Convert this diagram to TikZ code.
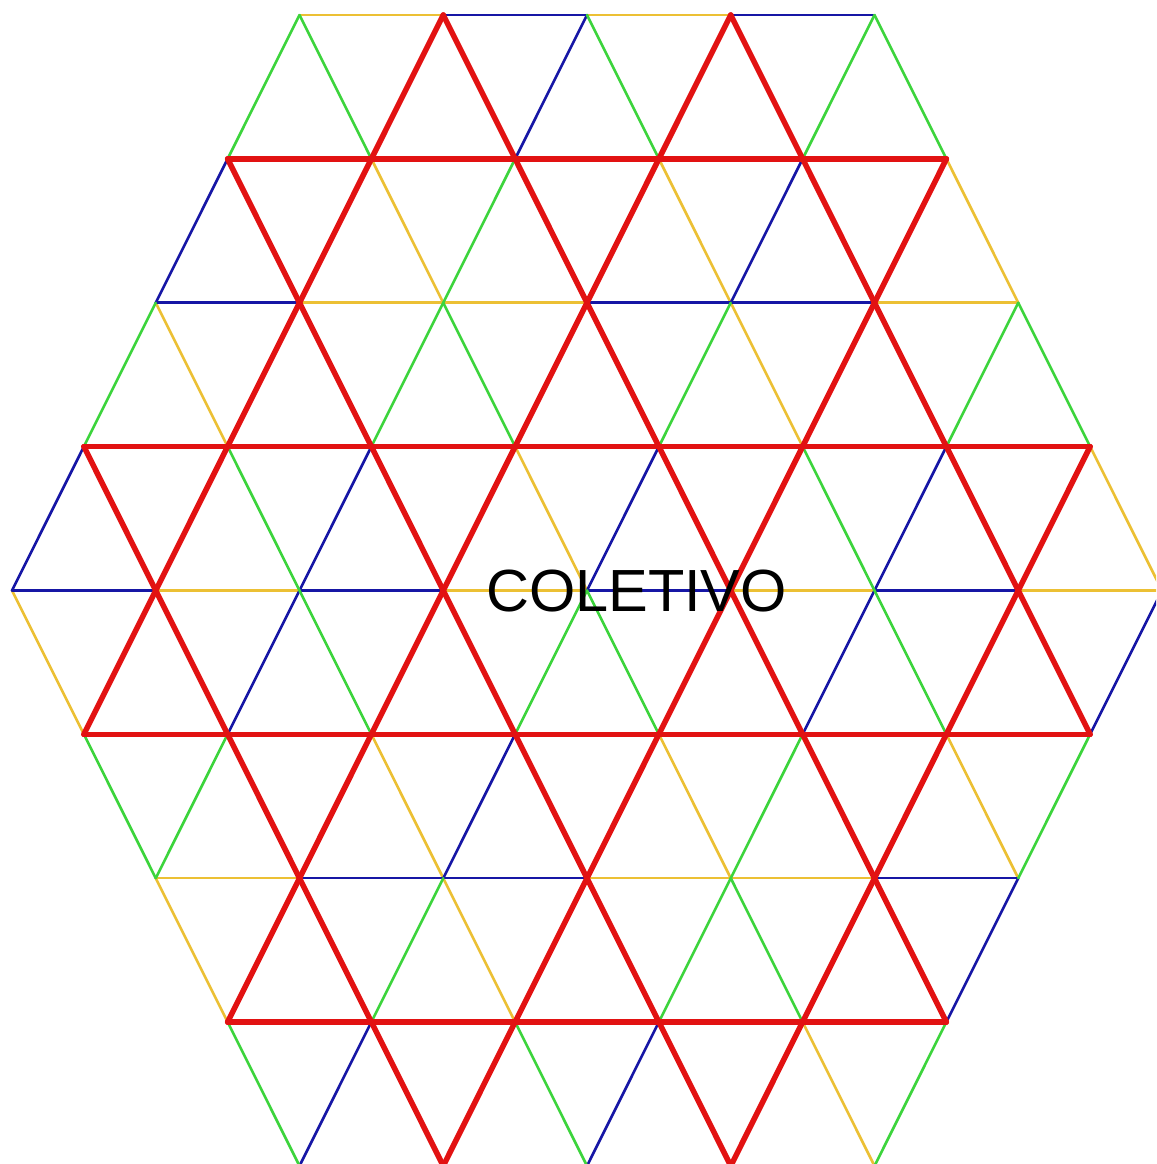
\documentclass[tikz,border=0pt]{standalone}
\usepackage{fontspec}
\setmainfont{Liberation Sans}
\definecolor{lred}{RGB}{226,18,18}
\definecolor{lblue}{RGB}{22,22,165}
\definecolor{lgreen}{RGB}{60,212,60}
\definecolor{lyellow}{RGB}{236,192,52}
\begin{document}
\begin{tikzpicture}[x=1pt,y=-1pt,
  thinedge/.style={line width=2.6pt,line cap=round},
  yedge/.style={thinedge,draw=lyellow},
  bedge/.style={thinedge,draw=lblue},
  gedge/.style={thinedge,draw=lgreen},
  redge/.style={line width=5.5pt,draw=lred,line cap=round,line join=round},
  labeltext/.style={font=\fontsize{59.5}{60}\selectfont,text=black,anchor=base,inner sep=0pt}]
\useasboundingbox (0,0) rectangle (1156,1164);
\clip (0,0) rectangle (1156,1164);
\fill[white] (0,0) rectangle (1156,1164);
% lattice vertices
\foreach \r in {0,...,8}{
  \foreach \a in {0,...,16}{
    \coordinate (v\a-\r) at ({12+71.875*\a},{15+143.86*\r});
  }
}
% yellow edges
\foreach \a/\r/\b/\s in {4/0/6/0, 8/0/10/0,
  5/1/6/2, 9/1/10/2, 13/1/14/2,
  4/2/6/2, 6/2/8/2, 12/2/14/2,
  2/2/3/3, 10/2/11/3,
  7/3/8/4, 15/3/16/4,
  2/4/4/4, 6/4/8/4, 10/4/12/4, 14/4/16/4,
  0/4/1/5,
  5/5/6/6, 9/5/10/6, 13/5/14/6,
  2/6/4/6, 8/6/10/6, 10/6/12/6,
  2/6/3/7, 6/6/7/7,
  11/7/12/8}
  \draw[yedge] (v\a-\r) -- (v\b-\s);
% blue edges
\foreach \a/\r/\b/\s in {6/0/8/0, 10/0/12/0,
  8/0/7/1,
  3/1/2/2, 11/1/10/2,
  2/2/4/2, 8/2/10/2, 10/2/12/2,
  1/3/0/4, 5/3/4/4, 9/3/8/4, 13/3/12/4,
  0/4/2/4, 4/4/6/4, 8/4/10/4, 12/4/14/4,
  4/4/3/5, 12/4/11/5, 16/4/15/5,
  7/5/6/6,
  4/6/6/6, 6/6/8/6, 12/6/14/6,
  14/6/13/7,
  5/7/4/8, 9/7/8/8}
  \draw[bedge] (v\a-\r) -- (v\b-\s);
% green edges
\foreach \a/\r/\b/\s in {4/0/3/1, 4/0/5/1, 8/0/9/1, 12/0/11/1, 12/0/13/1,
  7/1/6/2,
  2/2/1/3, 6/2/5/3, 6/2/7/3, 10/2/9/3, 14/2/13/3, 14/2/15/3,
  3/3/4/4, 11/3/12/4,
  4/4/5/5, 8/4/7/5, 8/4/9/5, 12/4/13/5,
  1/5/2/6, 3/5/2/6, 11/5/10/6, 15/5/14/6,
  6/6/5/7, 10/6/9/7, 10/6/11/7,
  3/7/4/8, 7/7/8/8, 13/7/12/8}
  \draw[gedge] (v\a-\r) -- (v\b-\s);
% red lines (coarse lattice)
\foreach \a/\r/\b/\s in {3/1/13/1, 1/3/15/3, 1/5/15/5, 3/7/13/7,
  1/3/6/8, 3/1/10/8, 6/0/13/7, 10/0/15/5,
  6/0/1/5, 10/0/3/7, 13/1/6/8, 15/3/10/8}
  \draw[redge] (v\a-\r) -- (v\b-\s);
% label
\node[labeltext] (label) at (636.5,611) {COLETIVO};
\end{tikzpicture}
\end{document}
